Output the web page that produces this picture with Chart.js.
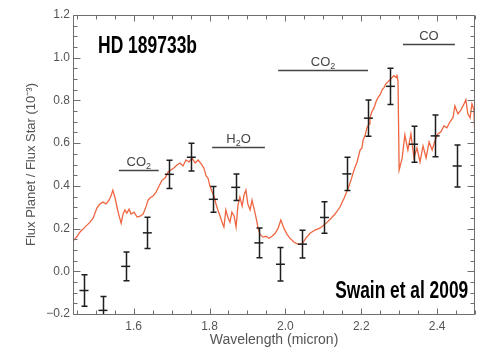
<!DOCTYPE html>
<html>
<head>
<meta charset="utf-8">
<script src="https://cdn.jsdelivr.net/npm/chart.js@4/dist/chart.umd.min.js"></script>
<style>
html,body{margin:0;padding:0;background:#fff;}
#wrap{width:481px;height:351px;position:relative;}
</style>
</head>
<body>
<div id="wrap"><canvas id="c" width="481" height="351"></canvas></div>
<script>
// Model spectrum (orange line)
const modelX = [1.440,1.451,1.458,1.469,1.477,1.485,1.493,1.503,1.511,1.519,1.527,1.535,1.540,1.545,1.551,1.556,1.561,1.567,1.572,1.577,1.582,1.588,1.593,1.601,1.609,1.617,1.625,1.633,1.638,1.643,1.651,1.659,1.667,1.675,1.683,1.691,1.698,1.706,1.714,1.722,1.730,1.738,1.746,1.754,1.762,1.770,1.778,1.785,1.791,1.796,1.801,1.807,1.812,1.817,1.822,1.828,1.833,1.838,1.843,1.849,1.854,1.859,1.865,1.870,1.875,1.880,1.886,1.891,1.896,1.901,1.907,1.912,1.917,1.923,1.928,1.933,1.941,1.949,1.957,1.965,1.973,1.981,1.988,1.996,2.004,2.012,2.023,2.033,2.044,2.054,2.065,2.078,2.091,2.105,2.118,2.131,2.144,2.155,2.165,2.173,2.181,2.189,2.197,2.202,2.205,2.210,2.215,2.221,2.223,2.228,2.234,2.239,2.244,2.250,2.255,2.260,2.265,2.271,2.276,2.281,2.286,2.292,2.294,2.297,2.300,2.308,2.315,2.323,2.331,2.339,2.347,2.355,2.363,2.371,2.379,2.387,2.395,2.402,2.410,2.418,2.426,2.434,2.442,2.447,2.455,2.463,2.471,2.476,2.481,2.487,2.492,2.497,2.500];
const modelY = [0.141,0.164,0.183,0.202,0.216,0.230,0.249,0.296,0.315,0.324,0.315,0.333,0.352,0.380,0.343,0.301,0.263,0.225,0.268,0.287,0.272,0.291,0.268,0.277,0.254,0.258,0.268,0.305,0.333,0.343,0.352,0.371,0.399,0.427,0.437,0.465,0.474,0.484,0.498,0.507,0.493,0.521,0.512,0.531,0.507,0.521,0.503,0.484,0.446,0.437,0.399,0.371,0.352,0.315,0.287,0.258,0.230,0.207,0.287,0.249,0.230,0.277,0.258,0.207,0.310,0.348,0.305,0.357,0.380,0.315,0.287,0.333,0.296,0.249,0.202,0.174,0.160,0.164,0.155,0.164,0.178,0.202,0.240,0.202,0.174,0.155,0.136,0.127,0.127,0.155,0.178,0.193,0.202,0.221,0.244,0.268,0.301,0.343,0.385,0.427,0.474,0.512,0.568,0.578,0.615,0.634,0.672,0.690,0.719,0.747,0.766,0.794,0.813,0.827,0.850,0.860,0.878,0.888,0.897,0.907,0.916,0.907,0.921,0.888,0.474,0.531,0.639,0.568,0.643,0.531,0.578,0.512,0.587,0.531,0.606,0.568,0.615,0.643,0.653,0.681,0.672,0.700,0.719,0.775,0.737,0.756,0.784,0.803,0.737,0.719,0.784,0.756,0.615];

// Observations with error bars
const obsX = [1.469,1.519,1.579,1.636,1.694,1.752,1.810,1.869,1.930,1.987,2.045,2.103,2.162,2.219,2.277,2.338,2.395,2.453];
const obsY = [-0.09,-0.183,0.023,0.18,0.454,0.534,0.337,0.393,0.133,0.033,0.127,0.252,0.456,0.717,0.866,0.595,0.634,0.493];
const obsErr = [0.074,0.065,0.067,0.073,0.066,0.065,0.060,0.062,0.070,0.078,0.065,0.074,0.078,0.085,0.085,0.084,0.098,0.098];

// Molecule bands
const bandLabels = ["CO", "H", "CO", "CO"];
const bandSubs = ["2", "2", "2", ""];
const bandTails = ["", "O", "", ""];
const bandStart = [1.561, 1.807, 1.981, 2.310];
const bandEnd = [1.666, 1.946, 2.218, 2.447];
const bandY = [0.474, 0.584, 0.941, 1.065];

// Tick labels
const xTicks = [1.6, 1.8, 2.0, 2.2, 2.4];
const yTicks = [-0.2, 0.0, 0.2, 0.4, 0.6, 0.8, 1.0, 1.2];

const titleText = "HD 189733b";
const titlePos = [1.506, 1.024];
const creditText = "Swain et al 2009";
const creditPos = [2.482, -0.127];

const AXIS = '#6e6e6e';
const TXT = '#555555';
const FONT = '"Liberation Sans", Arial, Helvetica, sans-serif';

const overlay = {
  id: 'overlay',
  afterDatasetsDraw(chart) {
    const ctx = chart.ctx;
    const xs = chart.scales.x, ys = chart.scales.y;
    const a = chart.chartArea;
    ctx.save();
    ctx.beginPath();
    ctx.rect(a.left, a.top, a.right - a.left, a.bottom - a.top);
    ctx.clip();
    ctx.strokeStyle = '#1e1e1e';
    ctx.lineWidth = 1.5;
    for (let i = 0; i < obsX.length; i++) {
      const px = Math.round(xs.getPixelForValue(obsX[i])) + 0.5;
      const top = ys.getPixelForValue(obsY[i] + obsErr[i]);
      const bot = ys.getPixelForValue(obsY[i] - obsErr[i]);
      ctx.beginPath();
      ctx.moveTo(px, top); ctx.lineTo(px, bot);
      ctx.moveTo(px - 3, top); ctx.lineTo(px + 3, top);
      ctx.moveTo(px - 3, bot); ctx.lineTo(px + 3, bot);
      ctx.stroke();
    }
    ctx.restore();
  },
  afterDraw(chart) {
    const ctx = chart.ctx;
    const xs = chart.scales.x, ys = chart.scales.y;
    const a = chart.chartArea;
    ctx.save();
    ctx.globalAlpha = 1;
    ctx.setLineDash([]);
    ctx.globalCompositeOperation = 'source-over';
    // band lines and labels
    ctx.strokeStyle = '#444';
    ctx.fillStyle = '#444';
    ctx.lineWidth = 1.5;
    for (let i = 0; i < bandStart.length; i++) {
      const x1 = xs.getPixelForValue(bandStart[i]);
      const x2 = xs.getPixelForValue(bandEnd[i]);
      const y = Math.round(ys.getPixelForValue(bandY[i])) + 0.5;
      ctx.beginPath(); ctx.moveTo(x1, y); ctx.lineTo(x2, y); ctx.stroke();
      const mainF = '13px ' + FONT, subF = '9px ' + FONT;
      ctx.font = mainF; const w1 = ctx.measureText(bandLabels[i]).width;
      const w3 = ctx.measureText(bandTails[i]).width;
      ctx.font = subF; const w2 = bandSubs[i] ? ctx.measureText(bandSubs[i]).width : 0;
      let sx = (x1 + x2) / 2 - (w1 + w2 + w3) / 2;
      const by = y - 5;
      ctx.textBaseline = 'alphabetic'; ctx.textAlign = 'left';
      ctx.font = mainF; ctx.fillText(bandLabels[i], sx, by); sx += w1;
      if (bandSubs[i]) { ctx.font = subF; ctx.fillText(bandSubs[i], sx, by + 3); sx += w2; }
      ctx.font = mainF; ctx.fillText(bandTails[i], sx, by);
    }

    // frame
    const L = Math.round(a.left) + 0.5, R = Math.round(a.right) - 0.5;
    const T = Math.round(a.top) + 0.5, B = Math.round(a.bottom) + 0.5;
    ctx.strokeStyle = AXIS;
    ctx.lineWidth = 1;
    ctx.beginPath();
    ctx.moveTo(L, T); ctx.lineTo(R, T); ctx.lineTo(R, B); ctx.lineTo(L, B); ctx.closePath();
    // ticks inward on all sides
    for (let k = 0; k <= 21; k++) {
      const v = 1.45 + k * 0.05;
      const px = Math.round(xs.getPixelForValue(v)) + 0.5;
      const major = xTicks.some(t => Math.abs(t - v) < 1e-6);
      const len = major ? 6 : 4;
      ctx.moveTo(px, B); ctx.lineTo(px, B - len);
      ctx.moveTo(px, T); ctx.lineTo(px, T + len);
    }
    for (let k = 0; k <= 28; k++) {
      const v = -0.2 + k * 0.05;
      const py = Math.round(ys.getPixelForValue(v)) + 0.5;
      const major = yTicks.some(t => Math.abs(t - v) < 1e-6);
      const len = major ? 7 : 4;
      ctx.moveTo(L, py); ctx.lineTo(L + len, py);
      ctx.moveTo(R, py); ctx.lineTo(R - len, py);
    }
    ctx.stroke();

    // big labels
    ctx.fillStyle = '#000';
    ctx.textBaseline = 'alphabetic';
    ctx.font = 'bold 23px ' + FONT;
    const drawCond = (txt, x, y, align, targetW) => {
      const w = ctx.measureText(txt).width;
      const s = targetW / w;
      ctx.save();
      ctx.translate(align === 'right' ? x - targetW : x, y);
      ctx.scale(s, 1);
      ctx.textAlign = 'left';
      ctx.fillText(txt, 0, 0);
      ctx.restore();
    };
    drawCond(titleText, xs.getPixelForValue(titlePos[0]), ys.getPixelForValue(titlePos[1]), 'left', 99);
    drawCond(creditText, xs.getPixelForValue(creditPos[0]), ys.getPixelForValue(creditPos[1]), 'right', 133);
    ctx.restore();
  }
};

new Chart(document.getElementById('c'), {
  type: 'scatter',
  data: {
    datasets: [
      {
        label: 'model',
        data: modelX.map((x, i) => ({x: x, y: modelY[i]})),
        showLine: true,
        borderColor: '#ef6640',
        backgroundColor: '#ef6640',
        borderWidth: 1.3,
        pointRadius: 0,
        tension: 0,
        order: 2
      },
      {
        label: 'observed',
        data: obsX.map((x, i) => ({x: x, y: obsY[i]})),
        pointStyle: 'line',
        pointRadius: 4.5,
        borderColor: '#1e1e1e',
        borderWidth: 1.5,
        order: 1
      }
    ]
  },
  options: {
    responsive: false,
    animation: false,
    devicePixelRatio: 1,
    layout: { padding: { top: 15, right: 6, left: 0, bottom: 0 } },
    plugins: { legend: { display: false }, tooltip: { enabled: false } },
    scales: {
      x: {
        type: 'linear', min: 1.44, max: 2.5,
        afterBuildTicks: s => { s.ticks = xTicks.map(v => ({value: v})); },
        afterFit: s => { s.height = 37; },
        grid: { display: false, drawTicks: false },
        border: { display: false },
        ticks: {
          color: TXT, padding: 5, maxRotation: 0,
          font: { family: FONT, size: 12 },
          callback: v => v.toFixed(1)
        },
        title: {
          display: true, text: 'Wavelength (micron)', color: TXT,
          font: { family: FONT, size: 14 }, padding: { top: 0, bottom: 2 }
        }
      },
      y: {
        type: 'linear', min: -0.2, max: 1.2,
        afterBuildTicks: s => { s.ticks = yTicks.map(v => ({value: v})); },
        afterFit: s => { s.width = 73; },
        grid: { display: false, drawTicks: false },
        border: { display: false },
        ticks: {
          color: TXT, padding: 3,
          font: { family: FONT, size: 12 },
          callback: v => (v < -1e-9 ? '\u2212' : '') + Math.abs(v).toFixed(1)
        },
        title: {
          display: true, text: 'Flux Planet / Flux Star (10\u207B\u00B3)', color: TXT,
          font: { family: FONT, size: 13 }, padding: { top: 24, bottom: 0 }
        }
      }
    }
  },
  plugins: [overlay]
});
</script>
</body>
</html>
